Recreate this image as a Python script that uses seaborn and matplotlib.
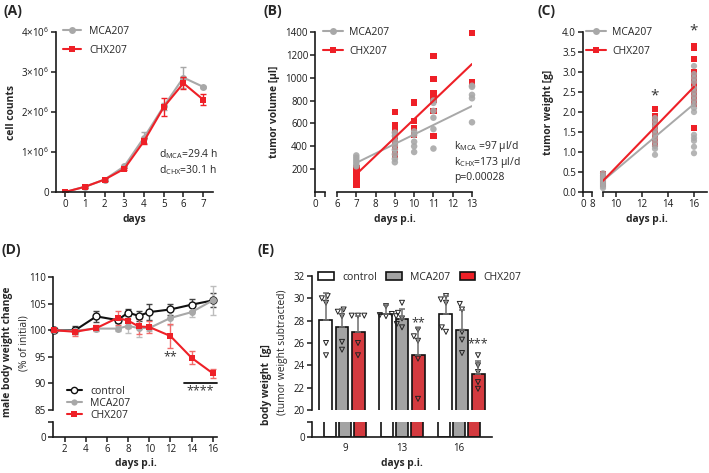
import numpy as np
import pandas as pd
import matplotlib
matplotlib.use("Agg")
import matplotlib.pyplot as plt
import seaborn as sns
from matplotlib.lines import Line2D
from matplotlib.patches import Patch

sns.set_theme(style="ticks")
plt.rcParams["font.family"] = ["Open Sans", "DejaVu Sans"]
plt.rcParams["mathtext.fontset"] = "custom"
plt.rcParams["mathtext.rm"] = "Open Sans"
plt.rcParams["mathtext.it"] = "Open Sans:italic"
plt.rcParams["mathtext.bf"] = "Open Sans:bold"

# ---------------- data ----------------
# (A) cell counts
days_a = [0, 1, 2, 3, 4, 5, 6, 7]
mca_cells = [0.0, 0.13e6, 0.31e6, 0.64e6, 1.36e6, 2.14e6, 2.86e6, 2.63e6]
mca_cells_sd = [0.01e6, 0.02e6, 0.03e6, 0.04e6, 0.13e6, 0.08e6, 0.26e6, 0.03e6]
chx_cells = [0.0, 0.13e6, 0.31e6, 0.58e6, 1.27e6, 2.12e6, 2.72e6, 2.31e6]
chx_cells_sd = [0.01e6, 0.02e6, 0.03e6, 0.03e6, 0.07e6, 0.22e6, 0.15e6, 0.14e6]

# (B) tumor volume
mca_vol_days = [7]*6 + [9]*8 + [10]*5 + [11]*6 + [13]*5
mca_vol = [320, 300, 280, 260, 240, 225,
           520, 490, 450, 410, 370, 330, 290, 260,
           530, 500, 440, 400, 350,
           800, 780, 710, 650, 550, 380,
           930, 920, 850, 820, 610]
chx_vol_days = [7]*8 + [9]*6 + [10]*4 + [11]*7 + [13]*3
chx_vol = [205, 180, 160, 140, 120, 100, 80, 65,
           700, 580, 520, 460, 400, 330,
           785, 620, 560, 500,
           1190, 990, 860, 840, 810, 710, 490,
           1390, 960, 950]
fit_days_b = [7, 13]
mca_vol_fit = [255, 752]
chx_vol_fit = [155, 1120]

# (C) tumor weight
mca_wt_days = [9]*8 + [13]*10 + [16]*16
mca_wt = [0.47, 0.40, 0.35, 0.30, 0.25, 0.20, 0.15, 0.10,
          1.85, 1.75, 1.65, 1.55, 1.45, 1.35, 1.25, 1.15, 1.08, 0.93,
          3.15, 2.95, 2.85, 2.75, 2.60, 2.50, 2.40, 2.30, 2.20, 2.10, 2.00,
          1.43, 1.35, 1.28, 1.13, 0.97]
chx_wt_days = [9]*6 + [13]*9 + [16]*11
chx_wt = [0.45, 0.40, 0.35, 0.30, 0.25, 0.20,
          2.07, 1.90, 1.80, 1.70, 1.60, 1.50, 1.40, 1.30, 1.20,
          3.65, 3.60, 3.33, 3.00, 2.90, 2.75, 2.60, 2.45, 2.30, 2.20, 1.60]
fit_days_c = [9, 16]
mca_wt_fit = [0.28, 2.20]
chx_wt_fit = [0.28, 2.63]

# (D) body weight change
days_d = [1, 3, 5, 7, 8, 9, 10, 12, 14, 16]
ctrl_bw = [100.0, 100.0, 102.6, 101.9, 103.3, 102.7, 103.4, 103.9, 104.8, 105.6]
ctrl_bw_sd = [0.0, 0.7, 1.0, 0.6, 0.7, 1.0, 1.5, 1.1, 1.1, 1.3]
mca_bw = [100.0, 99.9, 100.3, 100.3, 100.8, 100.4, 100.4, 102.3, 103.4, 105.6]
mca_bw_sd = [0.0, 0.6, 0.3, 0.5, 1.3, 1.7, 0.5, 1.3, 1.0, 2.7]
chx_bw = [100.0, 99.7, 100.4, 102.3, 101.8, 100.7, 100.6, 98.9, 94.8, 91.9]
chx_bw_sd = [0.0, 0.8, 0.6, 1.3, 1.4, 1.4, 1.1, 2.3, 1.2, 0.8]

# (E) body weight (bars = mean, upper SD, points)
groups_e = ["control", "MCA207", "CHX207"]
days_e = ["9", "13", "16"]
ctrl_mean = [28.05, 28.6, 28.6]
mca_mean = [27.4, 28.15, 27.2]
chx_mean = [26.95, 24.95, 23.2]
ctrl_sd = [2.4, 0.8, 1.6]
mca_sd = [1.65, 0.9, 1.75]
chx_sd = [1.5, 2.35, 1.2]
ctrl_pts = [[30.2, 30.0, 29.6, 26.0, 24.9], [29.3, 28.7, 28.6, 28.5, 28.4], [30.2, 29.9, 29.6, 27.4, 27.0]]
mca_pts = [[29.0, 28.8, 28.4, 26.1, 25.4], [29.6, 28.4, 28.2, 27.7, 27.4], [29.5, 29.0, 27.0, 26.3, 25.1]]
chx_pts = [[28.45, 28.45, 28.45, 26.0, 24.9], [27.2, 26.6, 26.2, 24.6, 21.0], [24.9, 24.0, 23.4, 22.5, 21.9]]

# ---------------- style ----------------
GRAY = "#a8a8a8"
GRAYBAR = "#a3a3a3"
RED = "#ee2027"
W, H = 709, 473
FS_TICK = 7.0
FS_LAB = 7.4
FS_LEG = 7.5


def rect(l, t, r, b):
    return [l / W, 1 - b / H, (r - l) / W, (b - t) / H]


def fx(x):
    return x / W


def fy(y):
    return 1 - y / H


def style(ax, left=True, bottom=True):
    for s in ["top", "right"]:
        ax.spines[s].set_visible(False)
    ax.spines["left"].set_visible(left)
    ax.spines["bottom"].set_visible(bottom)
    for s in ["left", "bottom"]:
        ax.spines[s].set_linewidth(1.2)
        ax.spines[s].set_color("#1a1a1a")
    ax.tick_params(axis="both", labelsize=FS_TICK, length=3.5, width=1.1,
                   colors="#1a1a1a", pad=1.5, left=left, bottom=bottom,
                   labelleft=left, labelbottom=bottom)
    ax.set_xlabel("")
    ax.set_ylabel("")
    ax.patch.set_alpha(0)


fig = plt.figure(figsize=(W / 100, H / 100), dpi=100)

# ---------------- (A) ----------------
axA = fig.add_axes(rect(56, 32, 213, 192))
sns.lineplot(x=days_a, y=mca_cells, color=GRAY, marker="o", markersize=5,
             markeredgewidth=0, linewidth=1.5, ax=axA)
axA.errorbar(days_a, mca_cells, yerr=mca_cells_sd, fmt="none", ecolor=GRAY,
             elinewidth=1, capsize=2.5, capthick=1)
sns.lineplot(x=days_a, y=chx_cells, color=RED, marker="s", markersize=5,
             markeredgewidth=0, linewidth=1.5, ax=axA)
axA.errorbar(days_a, chx_cells, yerr=chx_cells_sd, fmt="none", ecolor=RED,
             elinewidth=1, capsize=2.5, capthick=1)
axA.set_xlim(-0.46, 7.5)
axA.set_ylim(0, 4e6)
style(axA)
axA.set_xticks(days_a)
axA.set_yticks([0, 1e6, 2e6, 3e6, 4e6])
axA.set_yticklabels(["0", "1×10$^{6}$", "2×10$^{6}$", "3×10$^{6}$", "4×10$^{6}$"])
axA.text(4.75, 0.95e6, r"d$_{\mathrm{MCA}}$=29.4 h", fontsize=FS_LEG, va="center")
axA.text(4.75, 0.55e6, r"d$_{\mathrm{CHX}}$=30.1 h", fontsize=FS_LEG, va="center")
hA = [Line2D([], [], color=GRAY, marker="o", markersize=5, mew=0, lw=1.5),
      Line2D([], [], color=RED, marker="s", markersize=5, mew=0, lw=1.5)]
axA.legend(hA, ["MCA207", "CHX207"], loc="upper left", bbox_to_anchor=(fx(63), fy(26)),
           bbox_transform=fig.transFigure, frameon=False, fontsize=FS_LEG,
           handlelength=1.7, handletextpad=0.8, labelspacing=0.75,
           borderpad=0, borderaxespad=0)
fig.text(fx(12), fy(112), "cell counts", rotation=90, ha="center", va="center",
         fontsize=FS_LAB, fontweight="bold")
fig.text(fx(134), fy(219), "days", ha="center", va="center", fontsize=FS_LAB,
         fontweight="bold")

# ---------------- (B) ----------------
axB0 = fig.add_axes(rect(315, 32, 325, 192))
axB = fig.add_axes(rect(337, 32, 472, 192))
sns.scatterplot(x=chx_vol_days, y=chx_vol, color=RED, marker="s", s=22,
                edgecolor="none", ax=axB, clip_on=False, zorder=3)
sns.scatterplot(x=mca_vol_days, y=mca_vol, color=GRAY, marker="o", s=22,
                edgecolor="none", ax=axB, clip_on=False, zorder=3, alpha=0.9)
sns.lineplot(x=fit_days_b, y=mca_vol_fit, color=GRAY, linewidth=1.4, ax=axB, zorder=4)
sns.lineplot(x=fit_days_b, y=chx_vol_fit, color=RED, linewidth=1.5, ax=axB, zorder=4)
for a in (axB0, axB):
    a.set_ylim(0, 1400)
axB0.set_xlim(0, 1)
axB.set_xlim(6, 13)
style(axB0)
style(axB, left=False)
axB0.set_xticks([0, 1])
axB0.set_xticklabels(["0", ""])
axB0.set_yticks([200, 400, 600, 800, 1000, 1200, 1400])
axB.set_xticks([6, 7, 8, 9, 10, 11, 12, 13])
axB.set_yticks([])
axB.text(12.05, 400, r"k$_{\mathrm{MCA}}$ =97 µl/d", fontsize=FS_LEG, va="center", clip_on=False)
axB.text(12.05, 262, r"k$_{\mathrm{CHX}}$=173 µl/d", fontsize=FS_LEG, va="center", clip_on=False)
axB.text(12.05, 130, "p=0.00028", fontsize=FS_LEG, va="center", clip_on=False)
hB = [Line2D([], [], color=GRAY, marker="o", markersize=5, mew=0, lw=1.5),
      Line2D([], [], color=RED, marker="s", markersize=5, mew=0, lw=1.5)]
axB.legend(hB, ["MCA207", "CHX207"], loc="upper left", bbox_to_anchor=(fx(323), fy(27)),
           bbox_transform=fig.transFigure, frameon=False, fontsize=FS_LEG,
           handlelength=1.9, handletextpad=0.6, labelspacing=0.75,
           borderpad=0, borderaxespad=0)
fig.text(fx(275), fy(112), "tumor volume [µl]", rotation=90, ha="center", va="center",
         fontsize=FS_LAB, fontweight="bold")
fig.text(fx(395), fy(219), "days p.i.", ha="center", va="center", fontsize=FS_LAB,
         fontweight="bold")

# ---------------- (C) ----------------
axC0 = fig.add_axes(rect(583, 32, 592, 192))
axC = fig.add_axes(rect(603, 32, 707, 192))
sns.scatterplot(x=chx_wt_days, y=chx_wt, color=RED, marker="s", s=20,
                edgecolor="none", ax=axC, clip_on=False, zorder=3)
sns.scatterplot(x=mca_wt_days, y=mca_wt, color=GRAY, marker="o", s=20,
                edgecolor="none", ax=axC, clip_on=False, zorder=3, alpha=0.85)
sns.lineplot(x=fit_days_c, y=mca_wt_fit, color=GRAY, linewidth=1.4, ax=axC, zorder=4)
sns.lineplot(x=fit_days_c, y=chx_wt_fit, color=RED, linewidth=1.5, ax=axC, zorder=4)
for a in (axC0, axC):
    a.set_ylim(0, 4)
axC0.set_xlim(0, 8)
axC.set_xlim(9, 17)
style(axC0)
style(axC, left=False)
axC0.set_xticks([0, 8])
axC0.set_yticks(np.arange(0, 4.01, 0.5))
axC0.set_yticklabels([f"{v:.1f}" for v in np.arange(0, 4.01, 0.5)])
axC.set_xticks([9, 10, 12, 14, 16])
axC.set_xticklabels(["", "10", "12", "14", "16"])
axC.set_yticks([])
axC.text(13, 2.40, "*", ha="center", va="center", fontsize=11, color="#333333")
axC.text(16, 4.02, "*", ha="center", va="center", fontsize=11, color="#333333", clip_on=False)
axC.legend(hB, ["MCA207", "CHX207"], loc="upper left", bbox_to_anchor=(fx(586), fy(27)),
           bbox_transform=fig.transFigure, frameon=False, fontsize=FS_LEG,
           handlelength=1.9, handletextpad=0.6, labelspacing=0.75,
           borderpad=0, borderaxespad=0)
fig.text(fx(548), fy(112), "tumor weight [g]", rotation=90, ha="center", va="center",
         fontsize=FS_LAB, fontweight="bold")
fig.text(fx(647), fy(219), "days p.i.", ha="center", va="center", fontsize=FS_LAB,
         fontweight="bold")

# ---------------- (D) ----------------
axD = fig.add_axes(rect(53, 277, 217, 410))
axD0 = fig.add_axes(rect(53, 422, 217, 437))
series_d = [(ctrl_bw, ctrl_bw_sd, "#111111", "o", "white", "#444444"),
            (mca_bw, mca_bw_sd, GRAY, "o", GRAY, "#bdbdbd"),
            (chx_bw, chx_bw_sd, RED, "s", RED, "#f26b6b")]
for vals, sd, col, mk, mfc, ecol in series_d:
    axD.errorbar(days_d, vals, yerr=sd, fmt="none", ecolor=ecol, elinewidth=1,
                 capsize=2.5, capthick=1, zorder=2)
    sns.lineplot(x=days_d, y=vals, color=col, marker=mk, markersize=5,
                 markerfacecolor=mfc, markeredgecolor=col,
                 markeredgewidth=1.0 if mfc == "white" else 0,
                 linewidth=1.5, ax=axD, zorder=3, clip_on=False)
for a in (axD, axD0):
    a.set_xlim(0.9, 16.4)
axD.set_ylim(85, 110)
axD0.set_ylim(0, 2)
style(axD, bottom=False)
style(axD0)
axD.set_yticks([85, 90, 95, 100, 105, 110])
axD0.set_yticks([0, 2])
axD0.set_yticklabels(["0", ""])
axD0.set_xticks([2, 4, 6, 8, 10, 12, 14, 16])
axD.text(12, 95.0, "**", ha="center", va="center", fontsize=9, color="#333333")
axD.plot([13.3, 16.4], [90.0, 90.0], color="#111111", lw=1.3, clip_on=False)
axD.text(14.85, 88.6, "****", ha="center", va="center", fontsize=9, color="#333333")
hD = [Line2D([], [], color="#111111", marker="o", markersize=4.5, mfc="white", mew=1.0, lw=1.5),
      Line2D([], [], color=GRAY, marker="o", markersize=4.5, mew=0, lw=1.5),
      Line2D([], [], color=RED, marker="s", markersize=4.5, mew=0, lw=1.5)]
fig.legend(hD, ["control", "MCA207", "CHX207"], loc="upper left",
           bbox_to_anchor=(fx(67), fy(386)), frameon=False, fontsize=FS_LEG,
           handlelength=1.4, handletextpad=0.8, labelspacing=0.1,
           borderpad=0, borderaxespad=0)
fig.text(fx(8), fy(352), "male body weight change", rotation=90, ha="center",
         va="center", fontsize=FS_LAB, fontweight="bold")
fig.text(fx(24), fy(343), "(% of initial)", rotation=90, ha="center",
         va="center", fontsize=FS_LAB)
fig.text(fx(136), fy(463), "days p.i.", ha="center", va="center", fontsize=FS_LAB,
         fontweight="bold")

# ---------------- (E) ----------------
axE = fig.add_axes(rect(312, 276, 492, 410))
axE0 = fig.add_axes(rect(312, 422, 492, 437))
df_bars = pd.DataFrame({
    "day": days_e * 3,
    "group": [g for g in groups_e for _ in days_e],
    "mean": ctrl_mean + mca_mean + chx_mean,
    "sd": ctrl_sd + mca_sd + chx_sd,
})
rows = []
for g, pts in zip(groups_e, [ctrl_pts, mca_pts, chx_pts]):
    for d, vs in zip(days_e, pts):
        for v in vs:
            rows.append((d, g, v))
df_pts = pd.DataFrame(rows, columns=["day", "group", "bw"])
pal = {"control": "white", "MCA207": GRAYBAR, "CHX207": RED}
for a in (axE, axE0):
    sns.barplot(data=df_bars, x="day", y="mean", hue="group", order=days_e,
                hue_order=groups_e, palette=pal, edgecolor="#111111", linewidth=1.2,
                width=0.81, gap=0.22, errorbar=None, legend=False, ax=a)
    a.set_xlim(-0.58, 2.58)
n0 = len(axE.collections)
sns.swarmplot(data=df_pts, x="day", y="bw", hue="group", order=days_e,
              hue_order=groups_e, dodge=True, marker="v", size=3.6,
              palette=pal, legend=False, ax=axE, zorder=3)
for c in axE.collections[n0:]:
    c.set_facecolor("none")
    c.set_edgecolor("#222222")
    c.set_linewidth(0.7)
# upper error bars: bars sorted left-to-right are day-major, group-minor
bars_sorted = sorted(axE.patches, key=lambda p: p.get_x())
df_sorted = df_bars.assign(
    di=df_bars["day"].map({d: i for i, d in enumerate(days_e)}),
    gi=df_bars["group"].map({g: i for i, g in enumerate(groups_e)}),
).sort_values(["di", "gi"])
bar_pos = []
for p, (_, r) in zip(bars_sorted, df_sorted.iterrows()):
    xc = p.get_x() + p.get_width() / 2
    bar_pos.append((xc, r["group"], r["day"]))
    axE.errorbar([xc], [p.get_height()], yerr=[[0], [r["sd"]]], fmt="none",
                 ecolor="#6e6e6e", elinewidth=1.1, capsize=2.5, capthick=1.1, zorder=4)
axE.set_ylim(20, 32)
axE0.set_ylim(0, 2)
style(axE, bottom=False)
style(axE0)
axE.set_yticks([20, 22, 24, 26, 28, 30, 32])
axE0.set_yticks([0, 2])
axE0.set_yticklabels(["0", ""])
axE0.tick_params(axis="x", length=0, pad=4)
# significance stars above CHX207 bars (13, 16)
star_x = {d: xc for xc, g, d in bar_pos if g == "CHX207"}
axE.text(star_x["13"], 27.8, "**", ha="center", va="center", fontsize=9, color="#333333")
axE.text(star_x["16"], 25.9, "***", ha="center", va="center", fontsize=9, color="#333333")
hE = [Patch(facecolor=pal[g], edgecolor="#111111", linewidth=1.2) for g in groups_e]
fig.legend(hE, groups_e, loc="center left", bbox_to_anchor=(fx(318), fy(277)),
           frameon=False, fontsize=FS_LEG, ncol=3, handlelength=1.5, handleheight=0.7,
           handletextpad=0.8, columnspacing=0.9, borderpad=0, borderaxespad=0)
fig.text(fx(266), fy(385), "body weight  [g]", rotation=90, ha="center",
         va="center", fontsize=FS_LAB, fontweight="bold")
fig.text(fx(283), fy(352), "(tumor weight subtracted)", rotation=90, ha="center",
         va="center", fontsize=FS_LAB)
fig.text(fx(402), fy(463), "days p.i.", ha="center", va="center", fontsize=FS_LAB,
         fontweight="bold")

# ---------------- panel letters ----------------
for lab, x, y in [("(A)", 3, 11), ("(B)", 263, 11), ("(C)", 537, 11),
                  ("(D)", 2, 250), ("(E)", 258, 250)]:
    fig.text(fx(x), fy(y), lab, ha="left", va="center", fontsize=10, fontweight="bold")

fig.savefig("out.png", dpi=100)
